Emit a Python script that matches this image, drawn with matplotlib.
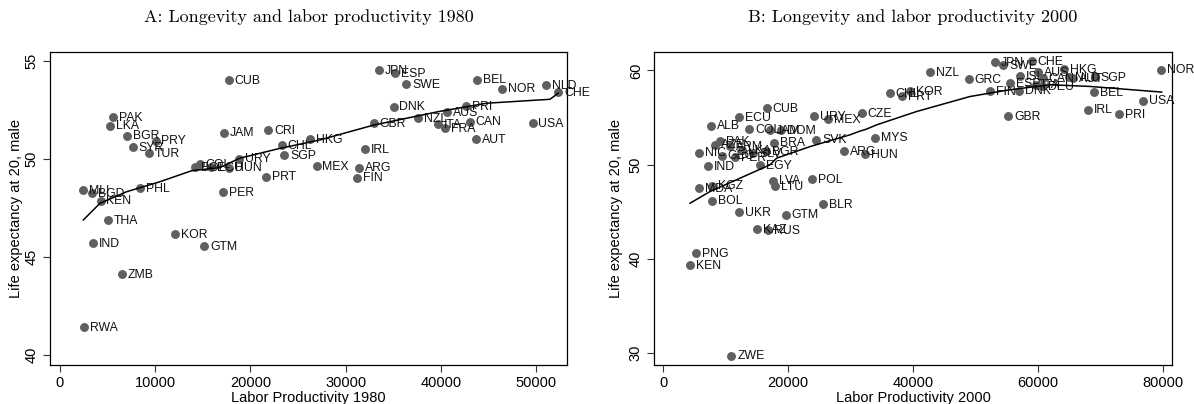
import matplotlib
matplotlib.use("Agg")
import matplotlib.pyplot as plt

# ---------------- Panel A data (1980) ----------------
a_codes = ["CUB", "PAK", "LKA", "BGR", "PRY", "SYR", "TUR", "JAM", "CRI", "CHL", "SGP", "HKG",
           "COL", "BOL", "ECU", "URY", "HUN", "PRT", "PER", "PHL", "MLI", "BGD", "KEN", "THA",
           "IND", "KOR", "GTM", "ZMB", "RWA", "JPN", "ESP", "SWE", "BEL", "NOR", "NLD", "CHE",
           "DNK", "PRI", "AUS", "NZL", "GBR", "ITA", "CAN", "FRA", "USA", "AUT", "IRL", "MEX",
           "ARG", "FIN"]
a_prod = [17720, 5600, 5250, 7040, 10050, 7630, 9350, 17190, 21880, 23280, 23560, 26260,
          14710, 14180, 15860, 18800, 17790, 21640, 17120, 8370, 2450, 3400, 4270, 5010,
          3500, 12120, 15160, 6510, 2520, 33470, 35190, 36380, 43800, 46460, 51080, 52340,
          35050, 42680, 40650, 37640, 32980, 39740, 43030, 40410, 49650, 43700, 32040, 26960,
          31410, 31200]
a_life = [54.00, 52.13, 51.69, 51.18, 50.92, 50.59, 50.30, 51.33, 51.47, 50.70, 50.19, 51.00,
          49.72, 49.58, 49.58, 50.00, 49.55, 49.09, 48.29, 48.49, 48.41, 48.26, 47.87, 46.88,
          45.71, 46.17, 45.56, 44.11, 41.41, 54.53, 54.36, 53.80, 54.03, 53.57, 53.76, 53.39,
          52.66, 52.69, 52.39, 52.08, 51.81, 51.77, 51.89, 51.55, 51.81, 51.01, 50.48, 49.63,
          49.55, 49.04]
a_fit_x = [2450, 4200, 7000, 10500, 13830, 16800, 18900, 23110, 27310, 32980, 39740, 44820, 51470, 52340]
a_fit_y = [46.88, 47.73, 48.32, 48.83, 49.39, 49.55, 50.03, 50.53, 50.96, 51.72, 52.40, 52.83, 53.03, 53.34]

# ---------------- Panel B data (2000) ----------------
b_codes = ["NZL", "GRC", "CHL", "KOR", "PRT", "CZE", "MYS", "HUN", "ARG", "JPN", "SWE", "CHE",
           "ISL", "ESP", "FIN", "DNK", "AUS", "CAN", "DEU", "ITA", "HKG", "NLD", "AUT", "SGP",
           "BEL", "IRL", "PRI", "USA", "NOR", "GBR",
           "CUB", "ECU", "ALB", "COL", "JAM", "DOM", "URY", "MEX", "SVK", "BRA", "PAK", "AZE",
           "ARM", "NIC", "GEO", "PER", "LKA", "SLV", "BGR", "IND", "EGY", "LVA", "LTU", "POL",
           "MDA", "KGZ", "BOL", "BLR", "UKR", "GTM", "KAZ", "RUS", "PNG", "KEN", "ZWE"]
b_prod = [42770, 48910, 36270, 39520, 38190, 31790, 33870, 32270, 28910, 53070, 54450, 58990,
          57120, 55520, 52320, 56960, 60050, 60750, 60590, 59700, 64210, 65000, 65600, 69120,
          68910, 68050, 73010, 76850, 79680, 55250,
          16640, 12210, 7680, 13810, 17120, 18830, 24110, 26450, 24530, 17710, 9120, 8320,
          10720, 5760, 9440, 11520, 12590, 14450, 16480, 7250, 15520, 17550, 17970, 23840,
          5810, 7890, 7890, 25550, 12160, 19630, 15090, 16850, 5230, 4320, 10930]
b_life = [59.79, 59.04, 57.60, 57.77, 57.24, 55.47, 52.87, 51.14, 51.46, 60.85, 60.53, 60.96,
          59.36, 58.66, 57.77, 57.84, 59.82, 59.19, 58.30, 58.50, 60.15, 59.30, 59.15, 59.26,
          57.70, 55.82, 55.32, 56.78, 60.07, 55.15,
          56.00, 55.00, 54.12, 53.77, 53.69, 53.62, 55.15, 54.83, 52.63, 52.34, 52.45, 52.10,
          51.99, 51.28, 50.93, 50.82, 51.56, 51.21, 51.46, 49.86, 49.97, 48.30, 47.73, 48.45,
          47.49, 47.77, 46.17, 45.82, 44.97, 44.68, 43.16, 43.05, 40.57, 39.33, 29.68]
b_fit_x = [4320, 7520, 12320, 17120, 18190, 23520, 29920, 31500, 32500, 34190, 40590, 49120,
           55520, 61920, 68320, 79790]
b_fit_y = [45.89, 47.13, 48.55, 49.97, 50.68, 51.91, 53.16, 53.55, 53.75, 54.22, 55.64, 57.23,
           57.95, 58.48, 58.30, 57.70]

titles = ["A: Longevity and labor productivity 1980", "B: Longevity and labor productivity 2000"]
xlabels = ["Labor Productivity 1980", "Labor Productivity 2000"]
ylabel = "Life expectancy at 20, male"
a_xticks = [0, 10000, 20000, 30000, 40000, 50000]
a_yticks = [40, 45, 50, 55]
b_xticks = [0, 20000, 40000, 60000, 80000]
b_yticks = [30, 40, 50, 60]

plt.rcParams["font.family"] = ["Liberation Sans", "DejaVu Sans"]

W, H = 1194, 404
fig = plt.figure(figsize=(W / 100, H / 100), dpi=100)

def frac_axes(l, r, t, b):
    return fig.add_axes([l / W, 1 - b / H, (r - l) / W, (b - t) / H])

axA = frac_axes(50, 567, 52, 365)
axB = frac_axes(654, 1172, 52, 365)

panels = [
    (axA, a_codes, a_prod, a_life, a_fit_x, a_fit_y, a_xticks, a_yticks, (-1050, 53260), (39.49, 55.44), 27),
    (axB, b_codes, b_prod, b_life, b_fit_x, b_fit_y, b_xticks, b_yticks, (-1440, 81440), (28.7, 61.96), 31),
]

for i, (ax, codes, xs, ys, fx, fy, xt, yt, xl, yl, ylab_off) in enumerate(panels):
    ax.plot(xs, ys, linestyle="none", marker="o", ms=5.4, mfc="#5f5f5f", mec="#5f5f5f", zorder=3)
    for c, x, y in zip(codes, xs, ys):
        ax.annotate(c, (x, y), xytext=(4.2, -0.5), textcoords="offset points",
                    fontsize=8.8, va="center", ha="left", color="#111111",
                    annotation_clip=False, clip_on=False, zorder=4)
    ax.plot(fx, fy, color="black", lw=1.1, zorder=5)
    ax.set_xlim(*xl)
    ax.set_ylim(*yl)
    ax.set_xticks(xt)
    ax.set_yticks(yt)
    ax.set_xticklabels([str(v) for v in xt], fontsize=10.5)
    ax.set_yticklabels([str(v) for v in yt], fontsize=10.5, rotation=90, va="center")
    ax.tick_params(axis="both", direction="out", length=5, width=0.8, color="#333333", pad=3)
    for s in ax.spines.values():
        s.set_linewidth(0.9)
        s.set_color("black")
    ax.set_xlabel(xlabels[i], fontsize=10.5, labelpad=0)
    ax.set_ylabel(ylabel, fontsize=10.5)
    w_px = (567 - 50) if i == 0 else (1172 - 654)
    ax.xaxis.set_label_coords(0.5, -0.082)
    ax.yaxis.set_label_coords(-ylab_off / w_px, 0.5)
    pos = ax.get_position()
    fig.text(pos.x0 + pos.width / 2, 1 - 17 / H, titles[i], ha="center", va="center",
             fontsize=13, family="cmr10")

fig.savefig("out.png", dpi=100)
